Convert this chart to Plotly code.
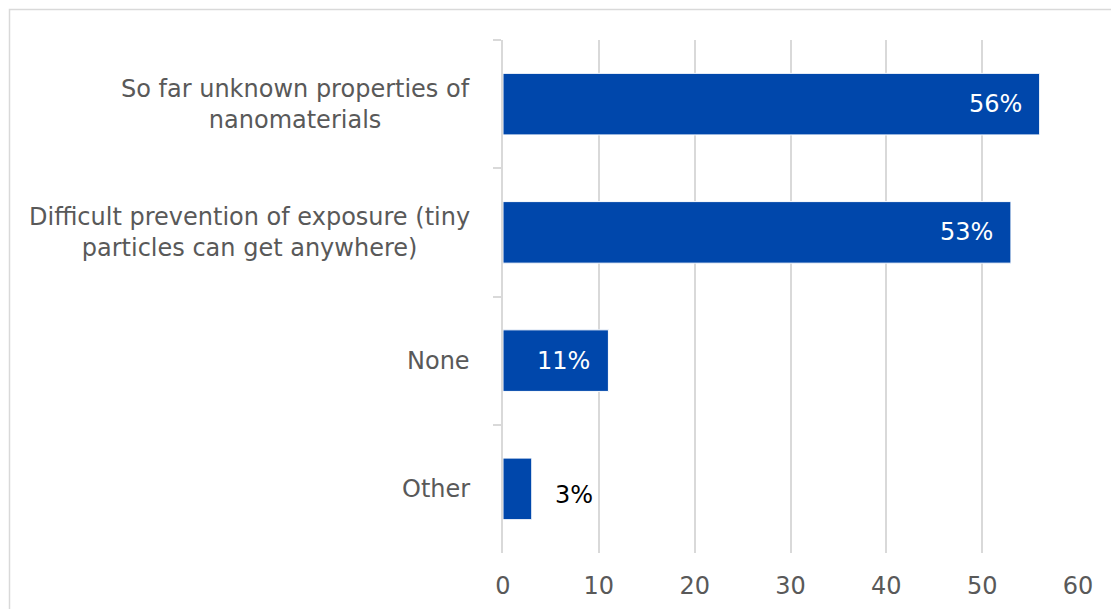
import plotly.graph_objects as go

# Survey responses: perceived risks of nanomaterials (share of respondents, %)
categories = [
    "So far unknown properties of<br>nanomaterials",
    "Difficult prevention of exposure (tiny<br>particles can get anywhere)",
    "None",
    "Other",
]
values = [56, 53, 11, 3]
x_ticks = [0, 10, 20, 30, 40, 50, 60]

BAR_BLUE = "#0047AB"
GRID = "#d9d9d9"
TEXT_GRAY = "#595959"
FONT = "DejaVu Sans, Verdana, sans-serif"

W, H = 1111, 609
L, R, T, B = 503, 33, 40, 56
pw, ph = W - L - R, H - T - B

fig = go.Figure(
    go.Bar(
        y=categories,
        x=values,
        orientation="h",
        width=0.48,
        marker=dict(color=BAR_BLUE, line=dict(color="white", width=1)),
        hoverinfo="skip",
    )
)

annotations = []

# Category labels: centred multi-line blocks, right edge just left of the axis ticks
for cat in categories:
    annotations.append(
        dict(
            x=-31 / pw,
            y=cat,
            xref="paper",
            yref="y",
            text=cat,
            showarrow=False,
            xanchor="right",
            yanchor="middle",
            align="center",
            font=dict(family=FONT, size=24, color=TEXT_GRAY),
        )
    )

# Value labels: inside the bar end for long bars, just outside for short ones
for cat, v in zip(categories, values):
    inside = v >= 10
    annotations.append(
        dict(
            x=v,
            y=cat,
            xref="x",
            yref="y",
            text=f"{v}%",
            showarrow=False,
            xanchor="right" if inside else "left",
            xshift=-16 if inside else 21,
            yshift=0 if inside else -6,
            font=dict(family=FONT, size=24, color="white" if inside else "black"),
        )
    )

# Light frame around the chart area
frame = dict(
    type="rect",
    xref="paper",
    yref="paper",
    x0=(9.5 - L) / pw,
    x1=(W + 20 - L) / pw,
    y0=-(H + 20 - (H - B)) / ph,
    y1=(H - B - 9.5) / ph,
    line=dict(color=GRID, width=1.5),
    fillcolor="rgba(0,0,0,0)",
    layer="below",
)

fig.update_layout(
    width=W,
    height=H,
    margin=dict(l=L, r=R, t=T, b=B, autoexpand=False),
    paper_bgcolor="white",
    plot_bgcolor="white",
    showlegend=False,
    annotations=annotations,
    shapes=[frame],
    font=dict(family=FONT, size=24, color=TEXT_GRAY),
    xaxis=dict(
        range=[0, 60],
        tickvals=x_ticks,
        showgrid=True,
        gridcolor=GRID,
        gridwidth=2,
        zeroline=False,
        showline=False,
        ticks="",
        automargin=False,
        ticklabelstandoff=16,
        tickfont=dict(family=FONT, size=24, color=TEXT_GRAY),
        fixedrange=True,
    ),
    yaxis=dict(
        autorange="reversed",
        showgrid=False,
        zeroline=False,
        showline=True,
        linecolor=GRID,
        linewidth=2,
        ticks="outside",
        tickson="boundaries",
        ticklen=8,
        tickwidth=2,
        tickcolor=GRID,
        showticklabels=False,
        automargin=False,
        fixedrange=True,
    ),
)

fig.write_html("out.html")
